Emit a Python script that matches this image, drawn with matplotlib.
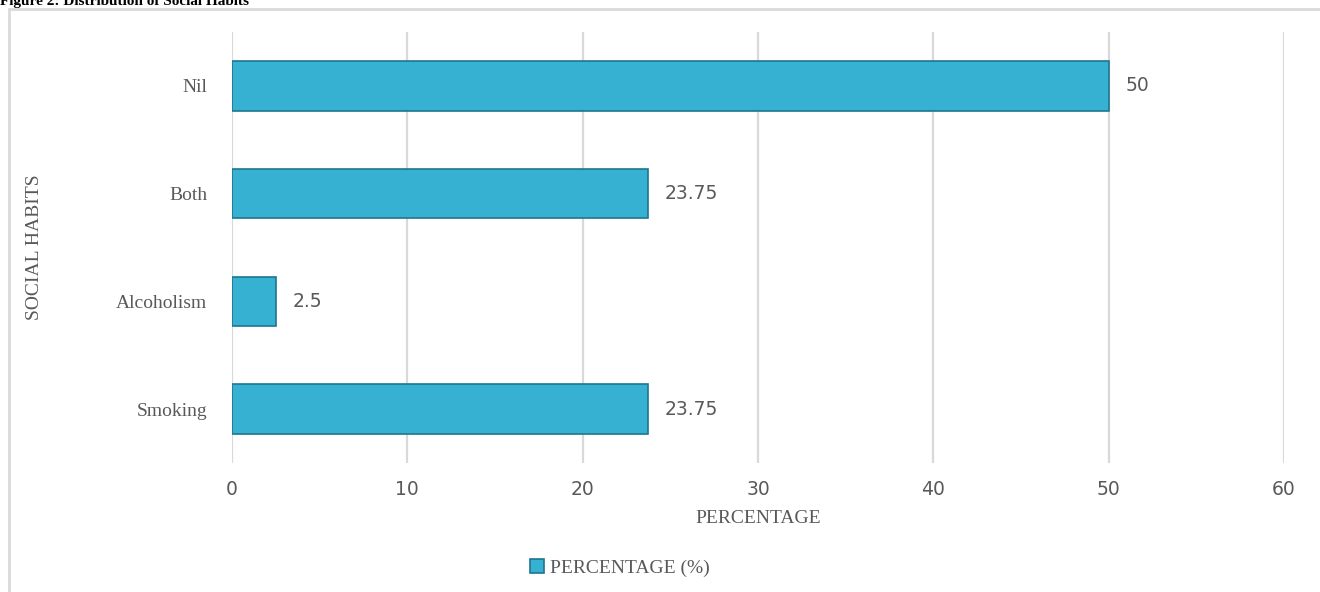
import matplotlib.pyplot as plt
from matplotlib.patches import Rectangle

# data
habits = ['Smoking', 'Alcoholism', 'Both', 'Nil']
percentage = [23.75, 2.5, 23.75, 50]
x_ticks = [0, 10, 20, 30, 40, 50, 60]

bar_color = '#36b1d1'
edge_color = '#1f7690'
text_gray = '#595959'

fig = plt.figure(figsize=(13.2, 5.92), dpi=100)
ax = fig.add_axes([0.1758, 0.2179, 0.7969, 0.7280])

# figure caption, cut off at the top like the source image
fig.text(0.0, 1 - 5 / 592, 'Figure 2: Distribution of Social Habits',
         fontsize=11, fontweight='bold', family='Liberation Serif',
         ha='left', va='baseline', color='black')

# light grey frame around the chart area
fig.patches.append(Rectangle((9 / 1320, -0.05), 1.2, 1 - 9 / 592 + 0.05,
                             transform=fig.transFigure, fill=False,
                             edgecolor='#d9d9d9', linewidth=2))

bars = ax.barh(habits, percentage, height=0.46, color=bar_color,
               edgecolor=edge_color, linewidth=1.2, zorder=3,
               label='PERCENTAGE (%)')

for rect, v in zip(bars, percentage):
    ax.annotate(f'{v:g}', (rect.get_width(), rect.get_y() + rect.get_height() / 2),
                xytext=(12, 0), textcoords='offset points', ha='left', va='center',
                fontsize=13.5, color=text_gray, family='DejaVu Sans')

ax.set_xlim(0, 60)
ax.set_ylim(-0.5, 3.5)
ax.set_xticks(x_ticks)
ax.grid(axis='x', color='#d9d9d9', linewidth=1.6, zorder=0)
ax.set_axisbelow(True)
for s in ax.spines.values():
    s.set_visible(False)

ax.tick_params(axis='x', length=0, pad=12, labelsize=13.5, labelcolor=text_gray)
ax.tick_params(axis='y', length=0, pad=18, labelsize=14, labelcolor=text_gray)
for lbl in ax.get_yticklabels():
    lbl.set_family('Liberation Serif')
for lbl in ax.get_xticklabels():
    lbl.set_family('DejaVu Sans')

ax.set_xlabel('PERCENTAGE', fontsize=14, family='Liberation Serif',
              color=text_gray, labelpad=8)
# y title sits far left of the category names, so place it on the figure
fig.text(35 / 1320, 1 - 247 / 592, 'SOCIAL HABITS', rotation=90,
         ha='center', va='center', fontsize=14, family='Liberation Serif',
         color=text_gray)

leg = fig.legend(handles=[bars], labels=['PERCENTAGE (%)'], loc='center',
                 bbox_to_anchor=(620 / 1320, 1 - 568 / 592), frameon=False,
                 handlelength=0.7, handleheight=0.7, handletextpad=0.3,
                 prop={'family': 'Liberation Serif', 'size': 14})
for t in leg.get_texts():
    t.set_color(text_gray)

fig.savefig('out.png', dpi=100)
